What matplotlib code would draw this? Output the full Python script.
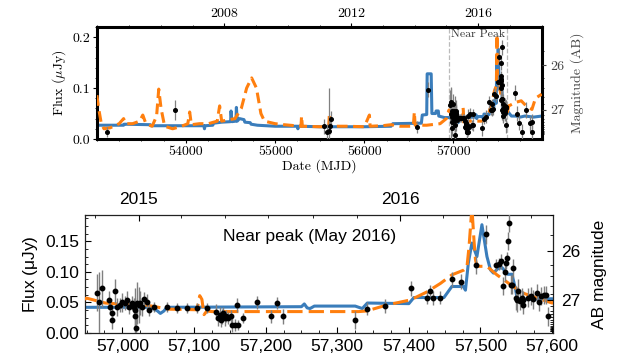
import numpy as np
import matplotlib
matplotlib.use("Agg")
import matplotlib.pyplot as plt
from matplotlib.ticker import AutoMinorLocator, FixedLocator, FuncFormatter
from datetime import date

plt.rcParams['mathtext.fontset'] = 'cm'
plt.rcParams['axes.unicode_minus'] = False

# ---------------- data ----------------
# Blue model (solid)
blue_mjd = [53000, 53300, 53305, 53600, 53605, 53900, 54000, 54200, 54207, 54214, 54300, 54310,
            54400, 54500, 54505, 54515, 54560, 54565, 54575, 54600, 54650, 54660, 54720, 54730,
            54800, 54900, 55000, 55250, 55255, 55262, 55500, 55800, 56000, 56300, 56320, 56640,
            56650, 56700, 56705, 56750, 56758, 56800, 56805, 56830, 56835, 56900, 56950,
            57040, 57049, 57053, 57058, 57062, 57250, 57254, 57258, 57262, 57268, 57325, 57335,
            57342, 57400, 57407, 57449, 57460, 57476, 57479, 57483, 57488, 57495, 57502, 57509,
            57514, 57518, 57524, 57530, 57535, 57538, 57544, 57549, 57551, 57558, 57600,
            57650, 57700, 57750, 57800, 57900, 57990]
blue_flux = [0.027, 0.027, 0.029, 0.028, 0.026, 0.026, 0.026, 0.026, 0.020, 0.026, 0.027, 0.031,
             0.033, 0.034, 0.055, 0.034, 0.035, 0.062, 0.035, 0.040, 0.038, 0.033, 0.032, 0.029,
             0.027, 0.026, 0.025, 0.025, 0.020, 0.025, 0.024, 0.024, 0.024, 0.025, 0.030, 0.031,
             0.047, 0.048, 0.128, 0.128, 0.050, 0.050, 0.055, 0.055, 0.045, 0.042, 0.042,
             0.042, 0.036, 0.032, 0.036, 0.042, 0.043, 0.0475, 0.041, 0.040, 0.044, 0.044, 0.040,
             0.049, 0.048, 0.058, 0.058, 0.076, 0.076, 0.070, 0.114, 0.147, 0.125, 0.177, 0.125,
             0.103, 0.098, 0.105, 0.107, 0.100, 0.096, 0.096, 0.071, 0.057, 0.055, 0.056,
             0.045, 0.045, 0.043, 0.045, 0.043, 0.045]

# Orange model (dashed)
orange_mjd = [53000, 53020, 53050, 53080, 53150, 53250, 53300, 53320, 53400, 53480, 53515, 53550,
              53620, 53670, 53694, 53720, 53760, 53850, 53950, 54020, 54041, 54060, 54150, 54250,
              54350, 54377, 54400, 54550, 54620, 54680, 54736, 54790, 54840, 54880, 55000, 55100,
              55290, 55296, 55305, 55500, 55600, 55609, 55620, 55800, 56000, 56057, 56065, 56200,
              56300, 56400, 56550, 56561, 56570, 56700, 56850, 56920, 56950,
              56976, 57000, 57030, 57041, 57064, 57104, 57108, 57111, 57114, 57118, 57125, 57200,
              57330, 57341, 57370, 57402, 57425, 57444, 57460, 57477, 57481, 57484, 57488, 57491,
              57493, 57495, 57509, 57523, 57542, 57560, 57579, 57600,
              57620, 57700, 57760, 57810, 57880, 57920, 57990]
orange_flux = [0.086, 0.060, 0.030, 0.020, 0.022, 0.030, 0.040, 0.030, 0.030, 0.035, 0.047, 0.030,
               0.025, 0.045, 0.098, 0.060, 0.025, 0.020, 0.025, 0.030, 0.053, 0.028, 0.030, 0.030,
               0.035, 0.065, 0.035, 0.040, 0.060, 0.100, 0.120, 0.100, 0.050, 0.035, 0.030, 0.028,
               0.025, 0.045, 0.025, 0.024, 0.024, 0.050, 0.025, 0.025, 0.024, 0.047, 0.025, 0.026,
               0.028, 0.025, 0.025, 0.053, 0.027, 0.027, 0.030, 0.040, 0.057,
               0.049, 0.047, 0.046, 0.044, 0.039, 0.038, 0.061, 0.055, 0.030, 0.036, 0.035, 0.035,
               0.035, 0.036, 0.046, 0.054, 0.067, 0.081, 0.095, 0.103, 0.107, 0.141, 0.205, 0.150,
               0.120, 0.109, 0.109, 0.095, 0.079, 0.065, 0.057, 0.049,
               0.065, 0.072, 0.075, 0.066, 0.058, 0.080, 0.088]

# Observed points
obs_mjd = [53112, 53873, 55553, 55580, 55600, 55615, 55628, 56594, 56710,
           56964, 56968, 56972, 56981, 56983, 56985, 56986, 56990, 56993, 56997, 57000, 57003,
           57006, 57009, 57014, 57016, 57017, 57018, 57019, 57020, 57023, 57025, 57027, 57030,
           57034, 57037, 57044, 57062, 57076, 57090, 57104, 57118, 57131, 57133, 57136, 57137,
           57139, 57141, 57143, 57145, 57148, 57151, 57153, 57157, 57160, 57162, 57169, 57188,
           57208, 57216, 57224, 57325, 57341, 57367, 57403, 57426, 57430, 57433, 57444, 57460,
           57473, 57494, 57508, 57522, 57526, 57529, 57532, 57534, 57536, 57537, 57538, 57540,
           57542, 57544, 57546, 57549, 57551, 57553, 57555, 57558, 57559, 57560, 57567, 57571,
           57574, 57579, 57582, 57585, 57588, 57591, 57594,
           57692, 57718, 57730, 57766, 57811, 57856, 57878, 57886]
obs_flux = [0.014, 0.057, 0.025, 0.014, 0.016, 0.025, 0.040, 0.024, 0.097,
            0.066, 0.050, 0.073, 0.054, 0.043, 0.033, 0.021, 0.069, 0.043, 0.046, 0.050, 0.049,
            0.054, 0.043, 0.049, 0.043, 0.027, 0.038, 0.008, 0.049, 0.046, 0.049, 0.042, 0.055,
            0.051, 0.037, 0.042, 0.042, 0.041, 0.041, 0.041, 0.041, 0.035, 0.024, 0.030, 0.022,
            0.027, 0.032, 0.024, 0.028, 0.024, 0.027, 0.013, 0.013, 0.046, 0.013, 0.024, 0.050,
            0.027, 0.049, 0.027, 0.021, 0.040, 0.044, 0.073, 0.057, 0.069, 0.057, 0.058, 0.088,
            0.084, 0.111, 0.161, 0.111, 0.113, 0.117, 0.077, 0.100, 0.114, 0.123, 0.150, 0.180,
            0.079, 0.079, 0.106, 0.057, 0.054, 0.069, 0.052, 0.058, 0.046, 0.054, 0.058, 0.060,
            0.055, 0.065, 0.051, 0.060, 0.062, 0.062, 0.027,
            0.091, 0.050, 0.032, 0.014, 0.057, 0.031, 0.014, 0.034]
obs_err = [0.010, 0.020, 0.015, 0.015, 0.085, 0.015, 0.015, 0.012, 0.015,
           0.030, 0.050, 0.030, 0.015, 0.012, 0.012, 0.015, 0.020, 0.015, 0.012, 0.015, 0.012,
           0.015, 0.012, 0.012, 0.015, 0.030, 0.035, 0.030, 0.035, 0.030, 0.020, 0.015, 0.012,
           0.012, 0.010, 0.008, 0.008, 0.008, 0.008, 0.008, 0.008, 0.012, 0.012, 0.012, 0.012,
           0.012, 0.010, 0.012, 0.010, 0.010, 0.010, 0.012, 0.010, 0.012, 0.008, 0.008, 0.010,
           0.010, 0.010, 0.012, 0.015, 0.010, 0.012, 0.012, 0.010, 0.010, 0.012, 0.010, 0.012,
           0.012, 0.015, 0.015, 0.010, 0.010, 0.012, 0.015, 0.015, 0.010, 0.010, 0.015, 0.015,
           0.015, 0.015, 0.015, 0.020, 0.020, 0.020, 0.015, 0.015, 0.015, 0.015, 0.015, 0.015,
           0.015, 0.015, 0.015, 0.015, 0.015, 0.015, 0.015,
           0.015, 0.015, 0.015, 0.015, 0.015, 0.015, 0.015, 0.015]

top_years = [2008, 2012, 2016]
bottom_years = [2015, 2016]
mag_ticks = [26, 27]

BLUE = '#3a7dbb'
ORANGE = '#ff7f0e'
ZP = 23.9


def mjd_of(y, m=1, d=1):
    return (date(y, m, d) - date(1858, 11, 17)).days


def mag2flux(m):
    return 10 ** ((ZP - np.asarray(m, dtype=float)) / 2.5)


fig = plt.figure(figsize=(6.17, 3.60), dpi=100)

# ---------------- top panel ----------------
SERIF = 'cmr10'
ax1 = fig.add_axes([0.157, 0.614, 0.721, 0.311])
ax1.plot(blue_mjd, blue_flux, color=BLUE, lw=2.2, zorder=2)
ax1.plot(orange_mjd, orange_flux, color=ORANGE, lw=2.2, ls='--', dashes=(3.5, 1.8), zorder=3)
ax1.errorbar(obs_mjd, obs_flux, yerr=obs_err, fmt='o', color='k', ms=2.6,
             ecolor='#808080', elinewidth=0.9, capsize=0, zorder=4)
ax1.axvline(56950, color='#bbbbbb', ls='--', lw=0.9, zorder=1)
ax1.axvline(57600, color='#bbbbbb', ls='--', lw=0.9, zorder=1)
ax1.text(56975, 0.216, 'Near Peak', fontfamily=SERIF, fontsize=8.5, color='#333333',
         ha='left', va='top', zorder=6)
ax1.set_xlim(53000, 57990)
ax1.set_ylim(0, 0.22)
ax1.set_xticks([54000, 55000, 56000, 57000])
ax1.set_xticklabels(['54000', '55000', '56000', '57000'])
ax1.set_yticks([0.0, 0.1, 0.2])
ax1.set_yticklabels(['0.0', '0.1', '0.2'])
ax1.xaxis.set_minor_locator(AutoMinorLocator(4))
ax1.yaxis.set_minor_locator(AutoMinorLocator(5))
ax1.tick_params(labelfontfamily=SERIF, labelsize=10, length=3, width=0.8, direction='out', pad=2)
ax1.tick_params(which='minor', length=1.5, width=0.6)
for s in ax1.spines.values():
    s.set_linewidth(2.2)
ax1.set_xlabel('Date (MJD)', fontfamily=SERIF, fontsize=10, labelpad=1)
ax1.set_ylabel(r'Flux ($\mu$Jy)', fontfamily=SERIF, fontsize=10, labelpad=3)

ax1t = ax1.twiny()
ax1t.set_xlim(ax1.get_xlim())
ax1t.set_xticks([mjd_of(y) for y in top_years])
ax1t.set_xticklabels([str(y) for y in top_years])
ax1t.set_xticks([mjd_of(y) for y in range(2004, 2019)], minor=True)
ax1t.tick_params(labelfontfamily=SERIF, labelsize=10, length=3, width=0.8, pad=2)
ax1t.tick_params(which='minor', length=1.5, width=0.6)
for s in ax1t.spines.values():
    s.set_visible(False)

ax1r = ax1.twinx()
ax1r.set_ylim(ax1.get_ylim())
ax1r.set_yticks(mag2flux(mag_ticks))
ax1r.set_yticklabels([str(m) for m in mag_ticks])
ax1r.set_yticks(mag2flux(np.arange(25.8, 29.01, 0.2)), minor=True)
ax1r.tick_params(labelfontfamily=SERIF, labelsize=10, length=3, width=0.8,
                 colors='#444444', pad=3)
ax1r.tick_params(which='minor', length=1.5, width=0.6)
for s in ax1r.spines.values():
    s.set_visible(False)
ax1r.set_ylabel('Magnitude (AB)', fontfamily=SERIF, fontsize=10, color='#444444', labelpad=4)

# ---------------- bottom panel ----------------
SANS = 'Liberation Sans'
ax2 = fig.add_axes([0.138, 0.075, 0.758, 0.328])
ax2.plot(blue_mjd, blue_flux, color=BLUE, lw=2.2, zorder=2)
ax2.plot(orange_mjd, orange_flux, color=ORANGE, lw=2.2, ls='--', dashes=(5, 2), zorder=3)
ax2.errorbar(obs_mjd, obs_flux, yerr=obs_err, fmt='o', color='k', ms=3.2,
             ecolor='#7f7f7f', elinewidth=1.0, capsize=0, zorder=4)
ax2.text(57262, 0.157, 'Near peak (May 2016)', fontfamily=SANS, fontsize=12.5,
         ha='center', va='center')
ax2.set_xlim(56948, 57601)
ax2.set_ylim(0, 0.193)
ax2.set_xticks([57000, 57100, 57200, 57300, 57400, 57500, 57600])
ax2.xaxis.set_major_formatter(FuncFormatter(lambda v, p: f'{int(v):,}'))
ax2.set_yticks([0.0, 0.05, 0.10, 0.15])
ax2.set_yticklabels(['0.00', '0.05', '0.10', '0.15'])
ax2.xaxis.set_minor_locator(AutoMinorLocator(4))
ax2.yaxis.set_minor_locator(AutoMinorLocator(4))
ax2.tick_params(labelfontfamily=SANS, labelsize=12.5, direction='in', length=4, width=0.8, pad=4)
ax2.tick_params(which='minor', direction='in', length=2, width=0.6)
for s in ax2.spines.values():
    s.set_linewidth(0.9)
    s.set_color('#222222')
ax2.set_ylabel(r'Flux ($\mathregular{\mu}$Jy)', fontfamily=SANS, fontsize=12.5, labelpad=4)

ax2t = ax2.twiny()
ax2t.set_xlim(ax2.get_xlim())
ax2t.set_xticks([mjd_of(y) for y in bottom_years])
ax2t.set_xticklabels([str(y) for y in bottom_years])
ax2t.set_xticks([mjd_of(2014, 11), mjd_of(2015, 3), mjd_of(2015, 5), mjd_of(2015, 7),
                 mjd_of(2015, 9), mjd_of(2015, 11), mjd_of(2016, 3), mjd_of(2016, 5),
                 mjd_of(2016, 7)], minor=True)
ax2t.tick_params(labelfontfamily=SANS, labelsize=12.5, direction='in', length=4, width=0.8, pad=6)
ax2t.tick_params(which='minor', direction='in', length=2, width=0.6)
for s in ax2t.spines.values():
    s.set_visible(False)

ax2r = ax2.twinx()
ax2r.set_ylim(ax2.get_ylim())
ax2r.set_yticks(mag2flux(mag_ticks))
ax2r.set_yticklabels([str(m) for m in mag_ticks])
ax2r.set_yticks(mag2flux(np.arange(25.6, 30.01, 0.2)), minor=True)
ax2r.tick_params(labelfontfamily=SANS, labelsize=12.5, direction='in', length=4, width=0.8, pad=6)
ax2r.tick_params(which='minor', direction='in', length=2, width=0.6)
for s in ax2r.spines.values():
    s.set_visible(False)
ax2r.set_ylabel('AB magnitude', fontfamily=SANS, fontsize=12.5, labelpad=8)

fig.savefig('out.png', dpi=100)
